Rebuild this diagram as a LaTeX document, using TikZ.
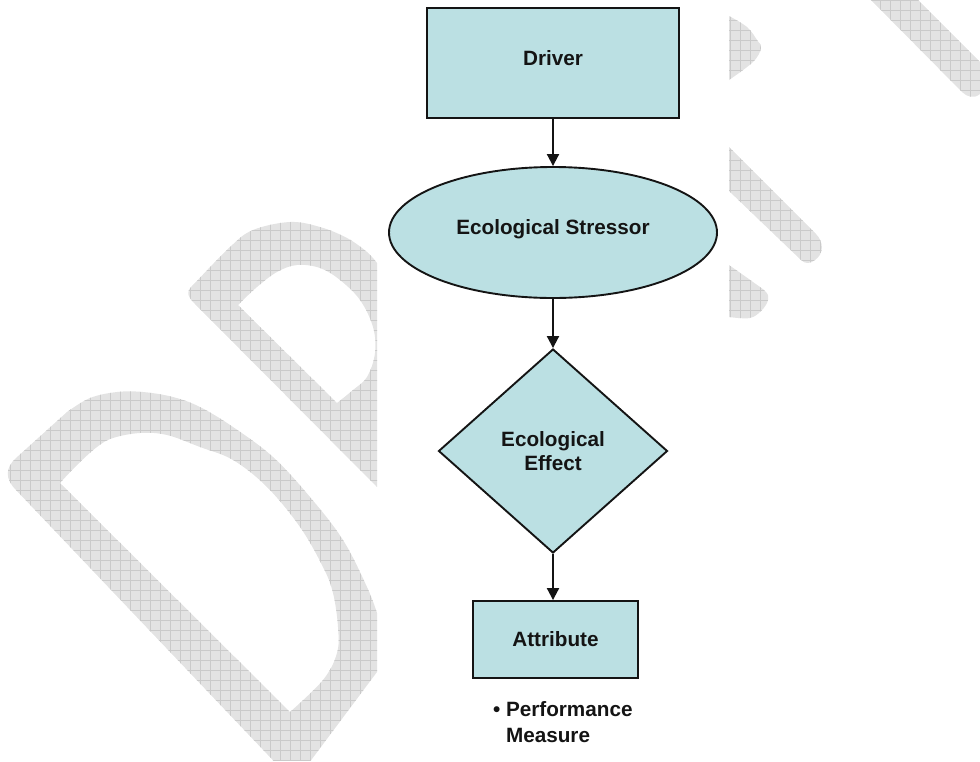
\documentclass[tikz,border=0pt]{standalone}
\usepackage{fontspec}
\setmainfont{Liberation Sans}
\usetikzlibrary{arrows.meta,shapes.geometric}
\definecolor{shapefill}{RGB}{187,224,227}
\definecolor{inkline}{RGB}{20,20,20}
\definecolor{wmfill}{RGB}{227,227,227}
\definecolor{wmgrid}{RGB}{202,202,202}

\begin{document}
\begin{tikzpicture}[x=1pt,y=-1pt,
  every node/.style={font=\fontsize{20.7}{24}\selectfont\bfseries, text=inkline},
  flowbox/.style={draw=inkline, line width=1.9pt, fill=shapefill, inner sep=0pt},
  arr/.style={draw=inkline, line width=2pt, -{Triangle[width=12pt,length=12pt]}},
  wmline/.style={draw=wmgrid, line width=0.6pt}]

\useasboundingbox (0,0) rectangle (980,761);

% light hatched "DRAFT" watermark pieces
\begin{scope}[even odd rule]
  \clip
    % D
    (287,775) -- (16,490) .. controls (5,479) and (5,468) .. (16,458) -- (67,412)
      -- plot[smooth, tension=0.6] coordinates {(67,412) (90,398) (117,392) (143,392) (173,397) (200,407) (233,427) (273,457) (310,497) (343,540) (367,587) (377,613)}
      -- (377,672) -- (300,775) -- cycle
    (60,483) -- plot[smooth, tension=0.6] coordinates {(60,483) (77,465) (97,447) (113,438) (140,433) (167,435) (200,447) (233,460) (267,487) (300,527) (323,567) (333,593) (338,627) (337,653) (323,680) (290,712)} -- cycle
    % R
    (377,487) -- (195,304) .. controls (186,295) and (186,291) .. (195,283)
      -- plot[smooth, tension=0.6] coordinates {(195,283) (230,247) (253,230) (290,222) (320,227) (347,238) (367,252) (377,263)} -- cycle
    (238,305) -- plot[smooth, tension=0.6] coordinates {(238,305) (257,287) (277,272) (297,265) (320,268) (340,280) (360,300) (373,327) (375,353) (367,377) (353,390) (337,403)} -- cycle
    % right-hand pieces
    (729,16) -- plot[smooth, tension=0.6] coordinates {(729,16) (747,27) (757,40) (761,48) (753,62) (729,80)} -- cycle
    (729,147) -- (816,234) .. controls (824,242) and (824,254) .. (815,260) .. controls (810,264) and (805,264) .. (801,260) -- (729,191) -- cycle
    (729,265) -- plot[smooth, tension=0.6] coordinates {(729,265) (753,282) (766,292) (768,300) (762,310) (750,318) (729,317)} -- cycle
    (866,-5) -- (962,92) .. controls (967,97) and (974,99) .. (980,94) -- (985,88) -- (985,67) -- (913,-5) -- cycle;
  \fill[wmfill] (0,0) rectangle (980,761);
  \foreach \g in {0,10,...,980} \draw[wmline] (\g,0) -- (\g,761);
  \foreach \g in {0,10,...,760} \draw[wmline] (0,\g) -- (980,\g);
\end{scope}

% flow chart
\node[flowbox, rectangle, minimum width=252pt, minimum height=110pt,
      text height=15pt, text depth=11pt] (driver) at (553,63) {Driver};
\node[flowbox, ellipse, minimum width=328pt, minimum height=131pt,
      text height=15pt, text depth=12pt] (stressor) at (553,232.5) {Ecological Stressor};
\node[flowbox, diamond, minimum width=229pt, minimum height=204pt,
      align=center] (effect) at (553,451) {Ecological\\Effect};
\node[flowbox, rectangle, minimum width=165pt, minimum height=77pt] (attr) at (555.5,639.5) {Attribute};
\node[anchor=base west, align=left, font=\fontsize{20.7}{26}\selectfont\bfseries]
      (measure) at (489.5,742) {\textbullet\ Performance\\\phantom{\textbullet\ }Measure};

\draw[arr] (driver.south) -- (stressor.north);
\draw[arr] (stressor.south) -- (effect.north);
\draw[arr] (effect.south) -- (effect.south |- attr.north);
\end{tikzpicture}
\end{document}
